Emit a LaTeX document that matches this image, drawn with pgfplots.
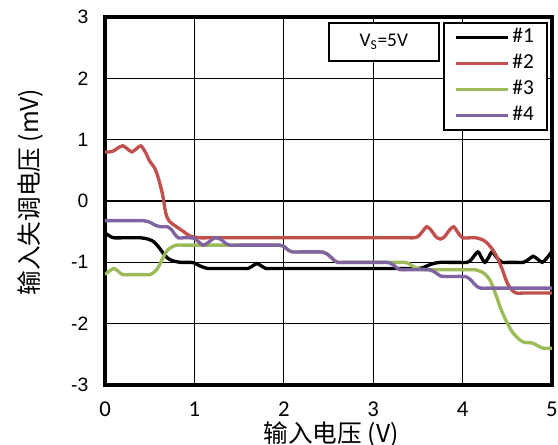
\documentclass[border=0pt]{standalone}
\usepackage{fontspec}
\setmainfont{Carlito}
\newfontfamily\arialf{Liberation Sans}
\newfontfamily\cjk{Noto Sans CJK SC}
\usepackage{pgfplots}
\pgfplotsset{compat=1.18}
\definecolor{c1}{HTML}{000000}
\definecolor{c2}{HTML}{C0504D}
\definecolor{c3}{HTML}{9BBB59}
\definecolor{c4}{HTML}{8064A2}
\begin{document}
\begin{tikzpicture}
\begin{axis}[
  scale only axis, width=335.25pt, height=276pt,
  at={(0pt,0pt)}, anchor=south west,
  xmin=0, xmax=5, ymin=-3, ymax=3,
  xtick={0,1,2,3,4,5}, ytick={-3,-2,-1,0,1,2,3},
  /pgf/number format/assume math mode=true,
  grid=major, major grid style={black, line width=0.8pt},
  axis line style={black, line width=3.5pt},
  tick style={draw=none},
  xticklabel style={font=\fontsize{17}{19}\selectfont, yshift=-9pt},
  yticklabel style={font=\arialf\fontsize{14.5}{16}\selectfont, xshift=-9pt},
  xlabel={\cjk 输入电压 (V)},
  ylabel={\cjk 输入失调电压 (mV)},
  xlabel style={font=\fontsize{18.5}{20}\selectfont, at={(axis description cs:0.506,0)}, anchor=north, yshift=-24pt},
  ylabel style={font=\fontsize{18.5}{20}\selectfont, at={(axis description cs:0,0.524)}, anchor=south, yshift=43pt},
  legend style={at={(rel axis cs:0.991,0.986)}, anchor=north east, draw=black, line width=1.2pt, fill=white,
    font=\fontsize{16}{18}\selectfont, row sep=3.5pt, inner xsep=8pt, inner ysep=3pt,
    nodes={inner xsep=2pt, inner ysep=0pt, text height=12pt, text depth=4pt}},
  legend cell align=left,
  legend image code/.code={\draw[#1] (0pt,0pt) -- (39pt,0pt);},
  every axis plot/.append style={line width=2.5pt, smooth, tension=0.5},
]
\addplot[c1] coordinates {
(0,-0.52) (0.05,-0.57) (0.1,-0.6) (0.2,-0.6) (0.3,-0.6) (0.4,-0.6) (0.45,-0.61) (0.5,-0.63) (0.55,-0.67)
(0.6,-0.75) (0.65,-0.85) (0.7,-0.93) (0.75,-0.97) (0.8,-0.99) (0.85,-1.0) (0.9,-1.0) (0.95,-1.0) (1.0,-1.01)
(1.05,-1.05) (1.1,-1.08) (1.15,-1.1) (1.2,-1.1) (1.4,-1.1) (1.55,-1.1) (1.6,-1.1) (1.65,-1.06) (1.7,-1.02)
(1.75,-1.06) (1.8,-1.1) (1.85,-1.1) (1.9,-1.1) (3.4,-1.1) (3.5,-1.1) (3.55,-1.09) (3.6,-1.06) (3.65,-1.03)
(3.7,-1.01) (3.75,-1.0) (3.85,-1.0) (3.95,-1.0) (4.05,-1.0) (4.1,-0.95) (4.17,-0.83) (4.21,-0.92) (4.25,-1.0)
(4.29,-0.92) (4.33,-0.83) (4.38,-0.92) (4.44,-1.0) (4.5,-1.0) (4.6,-1.0) (4.68,-1.0) (4.74,-0.95) (4.79,-0.9)
(4.84,-0.95) (4.89,-1.0) (4.93,-0.95) (4.97,-0.88) (5.0,-0.82)};
\addlegendentry{\#1}
\addplot[c2] coordinates {
(0,0.8) (0.05,0.8) (0.1,0.82) (0.15,0.87) (0.2,0.9) (0.25,0.85) (0.3,0.8) (0.35,0.85) (0.4,0.9) (0.45,0.8)
(0.5,0.65) (0.55,0.55) (0.58,0.45) (0.62,0.25) (0.65,0.06) (0.68,-0.2) (0.72,-0.33) (0.8,-0.42) (0.88,-0.5)
(0.95,-0.57) (1.05,-0.6) (1.15,-0.6) (1.3,-0.6) (3.3,-0.6) (3.4,-0.6) (3.45,-0.6) (3.5,-0.58) (3.55,-0.5)
(3.6,-0.42) (3.65,-0.48) (3.7,-0.58) (3.75,-0.62) (3.8,-0.58) (3.85,-0.48) (3.9,-0.42) (3.95,-0.52) (4.0,-0.6)
(4.08,-0.6) (4.15,-0.6) (4.22,-0.63) (4.27,-0.68) (4.33,-0.78) (4.38,-0.9) (4.44,-1.1) (4.5,-1.34)
(4.55,-1.45) (4.6,-1.5) (4.7,-1.5) (4.8,-1.5) (4.9,-1.5) (5,-1.5)};
\addlegendentry{\#2}
\addplot[c3] coordinates {
(0,-1.2) (0.05,-1.14) (0.1,-1.1) (0.15,-1.15) (0.2,-1.2) (0.3,-1.2) (0.4,-1.2) (0.5,-1.2) (0.55,-1.16)
(0.6,-1.07) (0.65,-0.92) (0.7,-0.8) (0.75,-0.75) (0.8,-0.72) (0.9,-0.72) (1.0,-0.72) (1.5,-0.72) (1.9,-0.72)
(1.95,-0.72) (2.0,-0.74) (2.05,-0.8) (2.1,-0.83) (2.2,-0.83) (2.4,-0.83) (2.45,-0.84) (2.5,-0.88) (2.55,-0.95)
(2.6,-1.0) (2.7,-1.0) (3.3,-1.0) (3.35,-1.0) (3.4,-1.02) (3.45,-1.07) (3.5,-1.1) (3.6,-1.12) (4.1,-1.12)
(4.16,-1.13) (4.22,-1.16) (4.27,-1.22) (4.31,-1.3) (4.34,-1.4) (4.38,-1.56) (4.42,-1.73) (4.46,-1.87)
(4.5,-1.99) (4.54,-2.1) (4.57,-2.16) (4.62,-2.24) (4.68,-2.3) (4.74,-2.31) (4.79,-2.32) (4.84,-2.36)
(4.9,-2.4) (4.95,-2.4) (5,-2.4)};
\addlegendentry{\#3}
\addplot[c4] coordinates {
(0,-0.32) (0.1,-0.32) (0.3,-0.32) (0.42,-0.32) (0.47,-0.33) (0.52,-0.36) (0.57,-0.4) (0.62,-0.42) (0.7,-0.42)
(0.74,-0.46) (0.78,-0.54) (0.82,-0.6) (0.88,-0.6) (0.95,-0.6) (1.0,-0.61) (1.05,-0.67) (1.1,-0.72)
(1.16,-0.67) (1.23,-0.6) (1.3,-0.63) (1.35,-0.69) (1.4,-0.72) (1.5,-0.72) (1.9,-0.72) (1.95,-0.72)
(2.0,-0.74) (2.05,-0.8) (2.1,-0.83) (2.2,-0.83) (2.4,-0.83) (2.45,-0.84) (2.5,-0.88) (2.55,-0.95) (2.6,-1.0)
(2.7,-1.0) (3.1,-1.0) (3.15,-1.0) (3.2,-1.02) (3.25,-1.07) (3.3,-1.12) (3.4,-1.12) (3.6,-1.12) (3.65,-1.13)
(3.7,-1.17) (3.75,-1.22) (3.8,-1.23) (3.9,-1.23) (4.0,-1.23) (4.05,-1.24) (4.1,-1.3) (4.15,-1.38)
(4.2,-1.42) (4.3,-1.42) (4.5,-1.42) (5,-1.42)};
\addlegendentry{\#4}
\node[draw=black, line width=1.2pt, fill=white, anchor=north west, minimum width=82.5pt, minimum height=28.5pt,
  font=\fontsize{14.5}{16}\selectfont] at (rel axis cs:0.499,0.986) {V\textsubscript{S}=5V};
\end{axis}
\pgfresetboundingbox
\useasboundingbox (-78.75pt,-44.25pt) rectangle (339.75pt,288.75pt);
\end{tikzpicture}
\end{document}
